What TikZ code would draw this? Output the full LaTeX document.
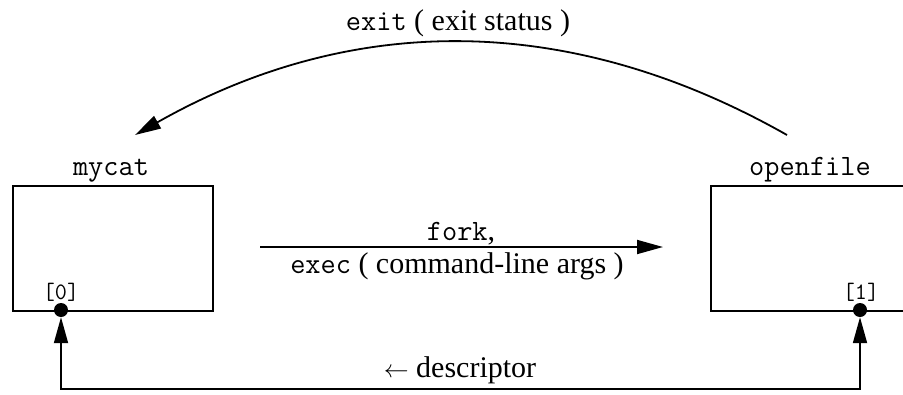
\documentclass[tikz,border=0pt]{standalone}
\usepackage{fontspec}
\setmainfont{Liberation Serif}
\usetikzlibrary{arrows.meta}
\newcommand\monotxt[1]{{\fontsize{29.5}{32}\selectfont\ttfamily #1}}
\begin{document}
\begin{tikzpicture}[x=1pt,y=-1pt,
  procbox/.style={draw,line width=2.2pt,minimum width=200pt,minimum height=125pt,inner sep=0pt,anchor=north west},
  dot/.style={circle,fill,inner sep=0pt,minimum size=14pt},
  lbl/.style={inner sep=0pt,anchor=base,font=\fontsize{30}{34}\selectfont},
  arr/.style={line width=1.8pt,-{Triangle[length=26pt,width=14pt]}},
  darr/.style={line width=1.8pt,{Triangle[length=26pt,width=14pt]}-{Triangle[length=26pt,width=14pt]}}]
\clip (0,0) rectangle (903,394);
\node[procbox] (mycat) at (12,185) {};
\node[procbox,minimum width=230pt] (openfile) at (710,185) {};
\node[lbl] (mycatlbl) at (111,175) {\monotxt{mycat}};
\node[lbl] (openlbl) at (810,175) {\monotxt{openfile}};
\node[lbl] (n0) at (61,299) {{\fontsize{23.5}{26}\selectfont\ttfamily [0]}};
\node[lbl] (n1) at (861,299) {{\fontsize{23.5}{26}\selectfont\ttfamily [1]}};
\node[dot] (d0) at (61,310) {};
\node[dot] (d1) at (860,310) {};
\coordinate (bl) at (61,389);
\coordinate (br) at (860,389);
\draw[darr] (d0.south) -- (bl) -- (br) -- (d1.south);
\node[lbl] (desc) at (460,377) {$\leftarrow$ descriptor};
\coordinate (fa) at (260,247);
\coordinate (fb) at (663,247);
\draw[arr] (fa) -- (fb);
\node[lbl] (forklbl) at (461,240) {\monotxt{fork},};
\node[lbl] (execlbl) at (457,273) {\monotxt{exec} ( command-line args )};
\coordinate (ca) at (787,135);
\coordinate (cb) at (135,135);
\draw[arr] (ca) .. controls (570,12) and (352,12) .. (cb);
\node[lbl] (exitlbl) at (458,30) {\monotxt{exit} ( exit status )};
\end{tikzpicture}
\end{document}
